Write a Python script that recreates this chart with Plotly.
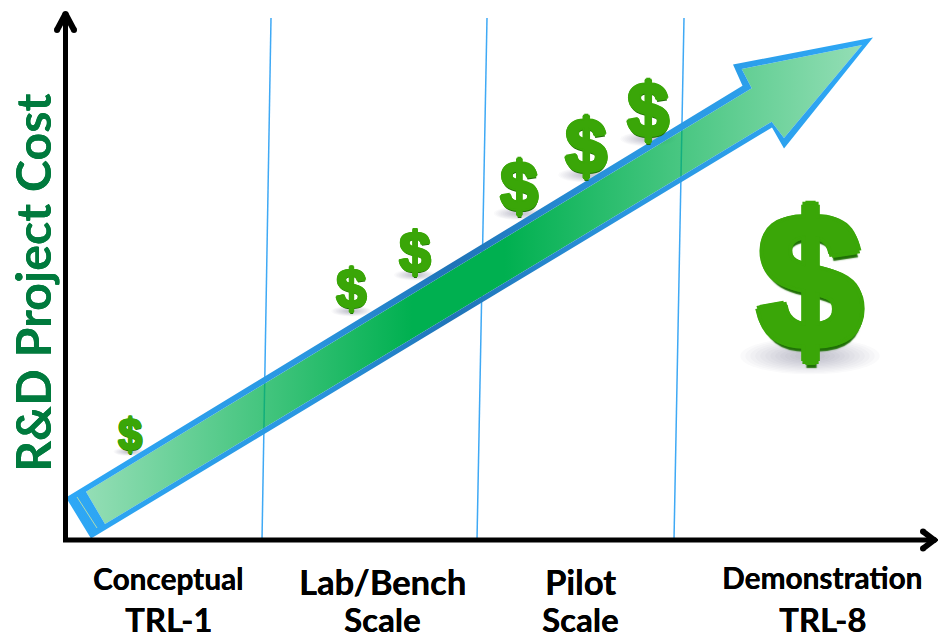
import plotly.graph_objects as go

WIDTH, HEIGHT = 938, 639
FONT = "Lato"

# Technology stages along the horizontal axis
stage_labels = ["Conceptual", "TRL-1", "Lab/Bench", "Scale", "Pilot", "Scale", "Demonstration", "TRL-8"]
stage_x = [168, 168, 382, 382, 580, 580, 822, 822]
stage_y = [578.5, 619, 581, 619, 581, 619, 577.5, 619]
stage_sizes = [29.8, 33, 34.5, 33, 34.5, 33, 29.8, 33]

# Dividers between the stages (top x, bottom x)
divider_top_x = [271, 487, 684]
divider_bottom_x = [262, 477, 674]
divider_top_y, divider_bottom_y = 18, 540

# Rising cost arrow: outer edge and inner fill outline
arrow_outer_x = [66, 91, 772, 784, 873, 733, 742.5]
arrow_outer_y = [497.5, 538.5, 127.5, 148.5, 37.5, 64.5, 85.7]
arrow_inner_x = [86, 751.7, 741.7, 862, 784, 771.7, 105]
arrow_inner_y = [491.7, 88.3, 69, 45, 138, 121.7, 524]
tail_mark_x = [77, 97]
tail_mark_y = [497, 528]

# Dollar signs growing with project cost
dollar_x = [129.5, 351.5, 415, 519, 586, 648, 810]
dollar_y = [435, 290, 253, 187, 146, 110, 283]
dollar_heights = [38, 48, 50, 60, 66, 66, 166]

fig = go.Figure()

# Stage dividers sit beneath the translucent arrow
for top, bottom in zip(divider_top_x, divider_bottom_x):
    fig.add_trace(go.Scatter(
        x=[top, bottom], y=[divider_top_y, divider_bottom_y], mode="lines",
        line=dict(color="#3fa9f5", width=1.5), hoverinfo="skip",
    ))

# Arrow body with transparent ends
fig.add_trace(go.Scatter(
    x=arrow_inner_x, y=arrow_inner_y, mode="none", fill="toself",
    fillgradient=dict(
        type="horizontal",
        colorscale=[
            [0.0, "rgba(0,176,80,0.42)"],
            [0.42, "rgba(0,176,80,1)"],
            [0.54, "rgba(0,176,80,1)"],
            [1.0, "rgba(0,176,80,0.42)"],
        ],
    ),
    hoverinfo="skip",
))

# Arrow outline as a ring, darker toward the middle
fig.add_trace(go.Scatter(
    x=arrow_outer_x + [None] + arrow_inner_x,
    y=arrow_outer_y + [None] + arrow_inner_y,
    mode="none", fill="toself",
    fillgradient=dict(
        type="horizontal",
        colorscale=[
            [0.0, "#2ea8f6"],
            [0.3, "#2a96e0"],
            [0.48, "#1f74b8"],
            [0.7, "#2a96e0"],
            [1.0, "#2ea8f6"],
        ],
    ),
    hoverinfo="skip",
))
fig.add_trace(go.Scatter(
    x=tail_mark_x, y=tail_mark_y, mode="lines",
    line=dict(color="#cfe8a0", width=0.8), hoverinfo="skip",
))

# Axes with rounded, open arrowheads
axis_x = [65.5, 65.5, 932]
axis_y = [16, 540, 540]
fig.add_trace(go.Scatter(
    x=axis_x, y=axis_y, mode="lines",
    line=dict(color="black", width=5), hoverinfo="skip",
))
for head_x, head_y in (([57, 65.5, 74], [30, 14, 30]), ([923, 934, 923], [531.5, 540, 548.5])):
    fig.add_trace(go.Scatter(
        x=head_x, y=head_y, mode="lines+markers",
        line=dict(color="black", width=6),
        marker=dict(color="black", size=6), hoverinfo="skip",
    ))

shapes = []
# Soft ground shadows under each dollar sign, built up from faint ellipses
for x, y, h in zip(dollar_x, dollar_y, dollar_heights):
    half_w = h * 0.42
    half_h = h * 0.11
    base = y + h * 0.44
    for step in range(14):
        scale = 1 - step / 14
        shapes.append(dict(
            type="circle", layer="below", line_width=0,
            fillcolor="rgba(60,60,70,0.025)",
            x0=x - half_w * scale, x1=x + half_w * scale,
            y0=base - half_h * scale, y1=base + half_h * scale,
        ))

annotations = []
GREEN = "#3aa608"
for x, y, h in zip(dollar_x, dollar_y, dollar_heights):
    size = h / 0.87
    r = size * 0.022
    depth = size * 0.016
    # Same-colour offsets fatten the glyph; the darker ones give it depth
    thicken = [
        f"{dx * r:.2f}px {dy * r:.2f}px 0 {GREEN}"
        for dx, dy in ((1, 0), (-1, 0), (0, 1), (0, -1), (.7, .7), (-.7, .7), (.7, -.7), (-.7, -.7))
    ]
    dark = f"{depth * 0.3:.2f}px {r + depth:.2f}px {depth * 0.4:.2f}px #1f6f06"
    annotations.append(dict(
        x=x, y=y - h * 0.015, text="<b>$</b>", showarrow=False,
        xanchor="center", yanchor="middle",
        font=dict(family="Liberation Sans", size=size, color=GREEN,
                  shadow=", ".join(thicken + [dark])),
    ))

for text, x, y, size in zip(stage_labels, stage_x, stage_y, stage_sizes):
    annotations.append(dict(
        x=x, y=y, text=f"<b>{text}</b>", showarrow=False,
        xanchor="center", yanchor="middle",
        font=dict(family=FONT, size=size, color="black", shadow="0.3px 0 0 black"),
    ))

annotations.append(dict(
    x=31.5, y=283.5, text="<b>R&D Project Cost</b>", showarrow=False, textangle=-90,
    xanchor="center", yanchor="middle",
    font=dict(family=FONT, size=48.3, color="#007a3d", shadow="0 0.4px 0 #007a3d"),
))

fig.update_layout(
    width=WIDTH, height=HEIGHT,
    margin=dict(l=0, r=0, t=0, b=0),
    paper_bgcolor="white", plot_bgcolor="white",
    showlegend=False,
    shapes=shapes, annotations=annotations,
    xaxis=dict(range=[0, WIDTH], visible=False, fixedrange=True),
    yaxis=dict(range=[HEIGHT, 0], visible=False, fixedrange=True),
)

fig.write_html("out.html", config=dict(displayModeBar=False))
